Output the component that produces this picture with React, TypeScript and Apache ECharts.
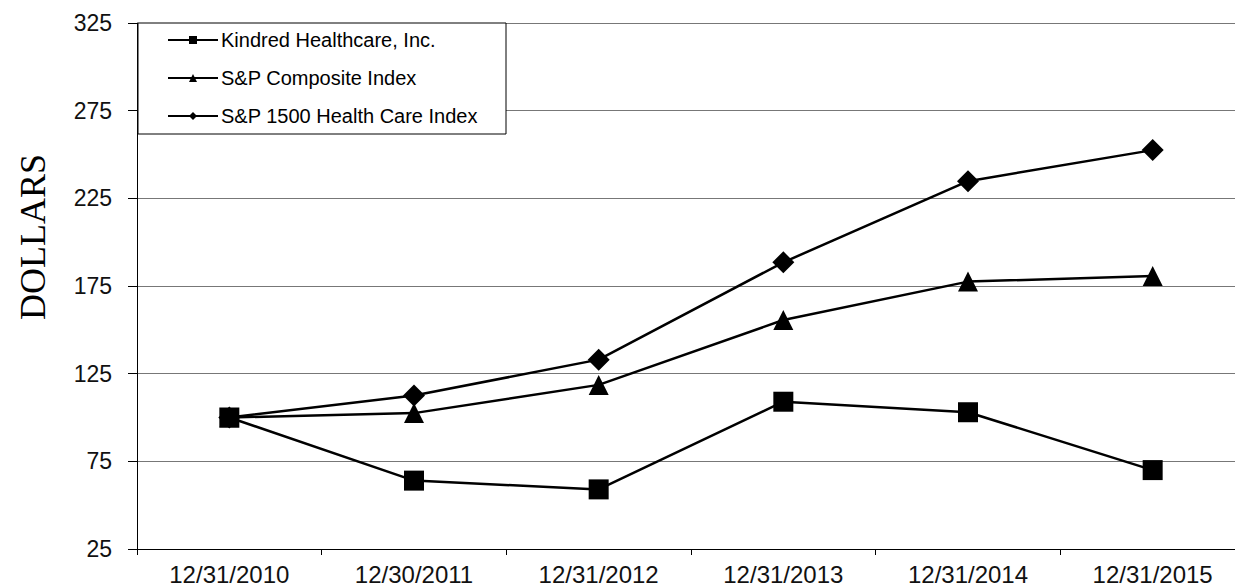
import React, { useEffect, useRef } from "react";
import * as echarts from "echarts";

const categories = ["12/31/2010", "12/30/2011", "12/31/2012", "12/31/2013", "12/31/2014", "12/31/2015"];
const kindred = [100, 64, 59, 109, 103, 70];
const composite = [100, 102.5, 118.6, 155.6, 177.5, 180.7];
const healthCare = [100, 112.5, 133, 188.5, 234.8, 252.5];
const seriesNames = ["Kindred Healthcare, Inc.", "S&P Composite Index", "S&P 1500 Health Care Index"];
const yMin = 25;
const yMax = 325;
const yInterval = 50;

export default function App() {
  const ref = useRef<HTMLDivElement>(null);
  useEffect(() => {
    if (!ref.current) return;
    const chart = echarts.init(ref.current, undefined, { renderer: "svg" });
    const sans = "'Liberation Sans', Arial, sans-serif";
    const mk = (name: string, data: number[], symbol: string, size: number) => ({
      name,
      type: "line",
      data,
      symbol,
      symbolSize: size,
      showAllSymbol: true,
      lineStyle: { color: "#000", width: 2.5 },
      itemStyle: { color: "#000" },
      z: 5,
    });
    chart.setOption({
      animation: false,
      backgroundColor: "#fff",
      grid: { left: 137, top: 23, bottom: 37, right: 0, containLabel: false },
      xAxis: {
        type: "category",
        data: categories,
        boundaryGap: true,
        axisLine: { lineStyle: { color: "#000", width: 1 } },
        axisTick: { show: true, length: 6, inside: false, lineStyle: { color: "#000" } },
        axisLabel: { fontSize: 24, fontFamily: sans, color: "#111", margin: 13, interval: 0 },
        splitLine: { show: false },
      },
      yAxis: {
        type: "value",
        min: yMin,
        max: yMax,
        interval: yInterval,
        axisLine: { show: true, lineStyle: { color: "#000", width: 1 } },
        axisTick: { show: true, length: 9, lineStyle: { color: "#000" } },
        axisLabel: { fontSize: 23, fontFamily: sans, color: "#111", margin: 25 },
        splitLine: { show: true, lineStyle: { color: "#777", width: 1 } },
      },
      graphic: [
        {
          type: "rect",
          z: 3,
          shape: { x: 138, y: 23, width: 368, height: 111 },
          style: { fill: "#fff", stroke: "#000", lineWidth: 1 },
        },
        {
          type: "text",
          z: 3,
          x: 33,
          y: 237,
          rotation: Math.PI / 2,
          style: {
            text: "DOLLARS",
            font: "36px 'Liberation Serif', 'Times New Roman', serif",
            fill: "#000",
            textAlign: "center",
            textVerticalAlign: "middle",
            align: "center",
            verticalAlign: "middle",
          },
        },
      ],
      legend: {
        data: seriesNames,
        orient: "vertical",
        left: 167,
        top: 30,
        padding: 0,
        itemWidth: 50,
        itemHeight: 10,
        itemGap: 18,
        z: 6,
        textStyle: { fontSize: 20, fontFamily: sans, color: "#000", padding: [0, 0, 0, -2] },
      },
      series: [
        mk(seriesNames[0], kindred, "rect", 20),
        mk(seriesNames[1], composite, "triangle", 20),
        mk(seriesNames[2], healthCare, "diamond", 22),
      ],
    });
    return () => chart.dispose();
  }, []);
  return (
    <div
      ref={ref}
      style={{ position: "fixed", left: 0, top: 0, width: 1245, height: 586, background: "#fff" }}
    />
  );
}
